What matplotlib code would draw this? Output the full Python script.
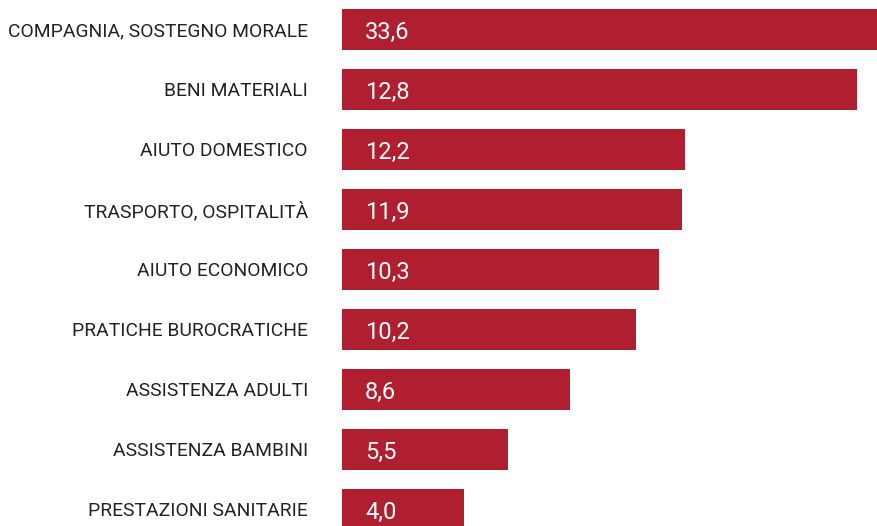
import matplotlib.pyplot as plt

# categorie e valori (etichette)
categorie = ['COMPAGNIA, SOSTEGNO MORALE', 'BENI MATERIALI', 'AIUTO DOMESTICO',
             'TRASPORTO, OSPITALITÀ', 'AIUTO ECONOMICO', 'PRATICHE BUROCRATICHE',
             'ASSISTENZA ADULTI', 'ASSISTENZA BAMBINI', 'PRESTAZIONI SANITARIE']
valori = [33.6, 12.8, 12.2, 11.9, 10.3, 10.2, 8.6, 5.5, 4.0]
# lunghezza delle barre come appare nel grafico (la prima esce dal riquadro)
lunghezze = [33.6, 16.85, 11.22, 11.12, 10.37, 9.62, 7.46, 5.43, 3.99]

rosso = '#B01F30'

fig = plt.figure(figsize=(8.77, 5.26), dpi=100)
ax = fig.add_axes([342 / 877, 0, 1 - 342 / 877, 1])

pos = list(range(len(categorie)))
ax.barh(pos, lunghezze, height=41 / 60, color=rosso, left=0)

for i, v in enumerate(valori):
    ax.text(0.76, i + 0.05, f'{v:.1f}'.replace('.', ','), color='white',
            fontsize=17, va='center', ha='left', family='Roboto')

ax.set_xlim(0, 17.5)
ax.set_ylim((526 - 29.5) / 60, -29.5 / 60)
ax.set_yticks(pos)
ax.set_yticklabels(categorie, fontsize=13.9, color='#222222', family='Roboto')
ax.tick_params(axis='y', length=0, pad=24.5)
ax.set_xticks([])
for s in ax.spines.values():
    s.set_visible(False)

fig.savefig('out.png', dpi=100)
